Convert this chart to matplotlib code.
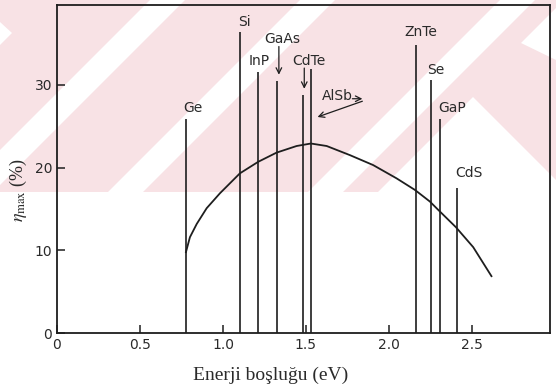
import matplotlib
matplotlib.use('Agg')
import matplotlib.pyplot as plt
from matplotlib.patches import Polygon

# --- data ---
materials = ['Ge', 'Si', 'InP', 'GaAs', 'CdTe', 'AlSb', 'ZnTe', 'Se', 'GaP', 'CdS']
band_gap = [0.775, 1.105, 1.21, 1.325, 1.484, 1.532, 2.164, 2.256, 2.308, 2.41]     # eV
eta_line = [25.8, 36.4, 31.5, 30.4, 28.7, 31.9, 34.8, 30.6, 25.8, 17.5]             # %

curve_gap = [0.777, 0.801, 0.842, 0.902, 0.982, 1.102, 1.213, 1.323, 1.444, 1.53,
             1.625, 1.765, 1.905, 2.046, 2.157, 2.247, 2.297, 2.404, 2.508, 2.618]
curve_eta = [9.8, 11.6, 13.2, 15.1, 16.9, 19.3, 20.7, 21.8, 22.6, 22.9,
             22.6, 21.5, 20.3, 18.7, 17.3, 15.9, 14.9, 12.8, 10.4, 6.9]

xticks = [0, 0.5, 1.0, 1.5, 2.0, 2.5]
xticklabels = ['0', '0.5', '1.0', '1.5', '2.0', '2.5']
yticks = [0, 10, 20, 30]

# label placement (x, y) for each material name
label_pos = {'Ge': (0.82, 27.2), 'Si': (1.13, 37.5), 'InP': (1.22, 32.8),
             'GaAs': (1.36, 35.5), 'CdTe': (1.52, 32.9), 'AlSb': (1.69, 28.6),
             'ZnTe': (2.19, 36.3), 'Se': (2.28, 31.8), 'GaP': (2.38, 27.2),
             'CdS': (2.48, 19.4)}

plt.rcParams['mathtext.fontset'] = 'stix'
ink = '#1e1e1e'

fig = plt.figure(figsize=(5.56, 3.89), dpi=100)

# pink watermark band of the scan (pixel coords, y from top)
def fpx(pts):
    return [(x / 556, 1 - y / 389) for x, y in pts]

wm = [([(0, 0), (556, 0), (556, 192), (0, 192)], '#f8e2e5'),
      ([(150, 0), (185, 0), (-7, 192), (-42, 192)], 'white'),
      ([(300, 0), (335, 0), (143, 192), (108, 192)], 'white'),
      ([(500, 0), (535, 0), (343, 192), (308, 192)], 'white'),
      ([(473, 97), (568, 192), (378, 192)], 'white'),
      ([(521, 43), (556, 8), (556, 60)], 'white'),
      ([(0, 22), (12, 33), (0, 45)], 'white')]
for pts, c in wm:
    fig.patches.append(Polygon(fpx(pts), closed=True, transform=fig.transFigure,
                               fc=c, ec='none', zorder=-5))

ax = fig.add_axes([0.1025, 0.143, 0.8865, 0.844])
ax.set_facecolor('none')

ax.vlines(band_gap, 0, eta_line, color=ink, lw=1.2)
ax.plot(curve_gap, curve_eta, color=ink, lw=1.3)

for name in materials:
    x, y = label_pos[name]
    ax.text(x, y, name, ha='center', va='center', fontsize=10, color='#2a2a2a')

arrow = dict(arrowstyle='->', lw=0.9, color=ink, shrinkA=0, shrinkB=0)
ax.annotate('', xy=(1.337, 31.2), xytext=(1.337, 34.6), arrowprops=arrow)
ax.annotate('', xy=(1.49, 29.5), xytext=(1.49, 32.0), arrowprops=arrow)
ax.annotate('', xy=(1.84, 28.3), xytext=(1.78, 28.3), arrowprops=arrow)
ax.annotate('', xy=(1.57, 26.1), xytext=(1.84, 28.0), arrowprops=arrow)

ax.set_xlim(0, 2.97)
ax.set_ylim(0, 39.6)
ax.set_xticks(xticks)
ax.set_xticklabels(xticklabels)
ax.set_yticks(yticks)
ax.tick_params(direction='in', length=6, width=1.1, labelsize=10,
               labelcolor='#2a2a2a', color=ink)
for s in ax.spines.values():
    s.set_linewidth(1.3)
    s.set_color(ink)

fig.text(271 / 556, 1 - 375 / 389, 'Enerji boşluğu (eV)', family='Liberation Serif',
         fontsize=14, ha='center', va='center', color='#2a2a2a')
fig.text(18 / 556, 1 - 190 / 389, r'$\eta_{\mathrm{max}}$ (%)', family='Liberation Serif',
         fontsize=13, rotation=90, ha='center', va='center', color='#2a2a2a')

fig.savefig('out.png', dpi=100)
